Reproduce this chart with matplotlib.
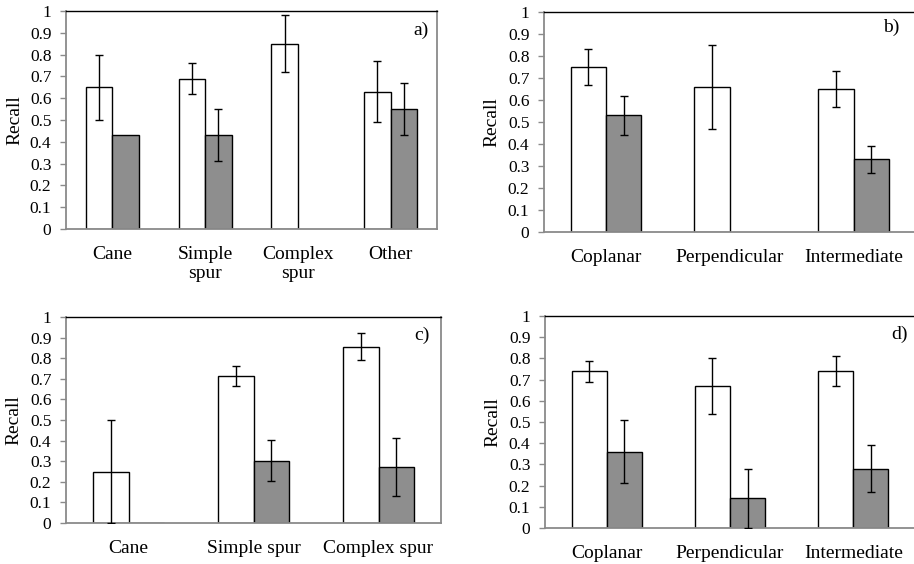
import numpy as np
import matplotlib
matplotlib.use("Agg")
import matplotlib.pyplot as plt

plt.rcParams['font.family'] = ['Liberation Serif', 'DejaVu Serif']

# panel a) - training system
cats_a = ["Cane", "Simple\nspur", "Complex\nspur", "Other"]
white_a = [0.65, 0.69, 0.85, 0.63]
white_err_a = [0.15, 0.07, 0.13, 0.14]
gray_a = [0.43, 0.43, np.nan, 0.55]
gray_err_a = [np.nan, 0.12, np.nan, 0.12]

# panel b) - orientation
cats_b = ["Coplanar", "Perpendicular", "Intermediate"]
white_b = [0.75, 0.66, 0.65]
white_err_b = [0.08, 0.19, 0.08]
gray_b = [0.53, np.nan, 0.33]
gray_err_b = [0.09, np.nan, 0.06]

# panel c)
cats_c = ["Cane", "Simple spur", "Complex spur"]
white_c = [0.25, 0.715, 0.855]
white_err_c = [0.25, 0.048, 0.065]
gray_c = [0.0, 0.303, 0.273]
gray_err_c = [np.nan, 0.098, 0.142]

# panel d)
cats_d = ["Coplanar", "Perpendicular", "Intermediate"]
white_d = [0.74, 0.67, 0.74]
white_err_d = [0.05, 0.13, 0.07]
gray_d = [0.36, 0.14, 0.28]
gray_err_d = [0.15, 0.14, 0.11]

yticks = [0, 0.1, 0.2, 0.3, 0.4, 0.5, 0.6, 0.7, 0.8, 0.9, 1]
ytick_labels = ["0", "0.1", "0.2", "0.3", "0.4", "0.5", "0.6", "0.7", "0.8", "0.9", "1"]

W, H = 914, 564
fig = plt.figure(figsize=(W / 100, H / 100), dpi=100)

GRAY_LINE = '#8a8a8a'
BAR_GRAY = '#8e8e8e'
bw = 0.285


def px_axes(left, top, right, bottom):
    return fig.add_axes([left / W, 1 - bottom / H, (right - left) / W, (bottom - top) / H])


def panel(ax, cats, white, werr, gray, gerr, tag, tag_dx, tag_dy, ylab_px):
    x = np.arange(len(cats))
    ax.bar(x - bw / 2, white, bw, color='white', edgecolor='black', linewidth=1.0, zorder=2)
    ax.bar(x + bw / 2, gray, bw, color=BAR_GRAY, edgecolor='black', linewidth=1.0, zorder=2)
    ax.errorbar(x - bw / 2, white, yerr=werr, fmt='none', ecolor='black',
                elinewidth=1.0, capsize=3, capthick=1.0, zorder=3)
    ax.errorbar(x + bw / 2, gray, yerr=gerr, fmt='none', ecolor='black',
                elinewidth=1.0, capsize=3, capthick=1.0, zorder=3)
    ax.set_xlim(-0.5, len(cats) - 0.5)
    ax.set_ylim(0, 1)
    ax.set_yticks(yticks)
    ax.set_yticklabels(ytick_labels)
    ax.set_xticks(x)
    ax.set_xticklabels(cats, fontsize=14, linespacing=1.2)
    ax.tick_params(axis='x', length=0, pad=12)
    ax.tick_params(axis='y', length=4.5, width=1, color=GRAY_LINE, labelsize=12.5, pad=6)
    for s in ['left', 'bottom', 'right']:
        ax.spines[s].set_color(GRAY_LINE)
        ax.spines[s].set_linewidth(1.3)
    ax.spines['top'].set_color('black')
    ax.spines['top'].set_linewidth(1.0)
    ax.set_ylabel("Recall", fontsize=14)
    bb = ax.get_position()
    ax.yaxis.set_label_coords(-ylab_px / (bb.width * W), 0.5)
    ax.annotate(tag, xy=(1, 1), xycoords='axes fraction', xytext=(-tag_dx, -tag_dy),
                textcoords='offset pixels', ha='right', va='top', fontsize=14)


ax_a = px_axes(66, 11, 437, 229)
panel(ax_a, cats_a, white_a, white_err_a, gray_a, gray_err_a, "a)", 8, 11, 43)

ax_b = px_axes(544, 12, 915.5, 232)
panel(ax_b, cats_b, white_b, white_err_b, gray_b, gray_err_b, "b)", 16, 7, 44)

ax_c = px_axes(66, 317, 441, 523)
panel(ax_c, cats_c, white_c, white_err_c, gray_c, gray_err_c, "c)", 11, 10, 44)

ax_d = px_axes(545, 316, 915, 528)
panel(ax_d, cats_d, white_d, white_err_d, gray_d, gray_err_d, "d)", 7, 10, 44)

fig.savefig("out.png", dpi=100)
